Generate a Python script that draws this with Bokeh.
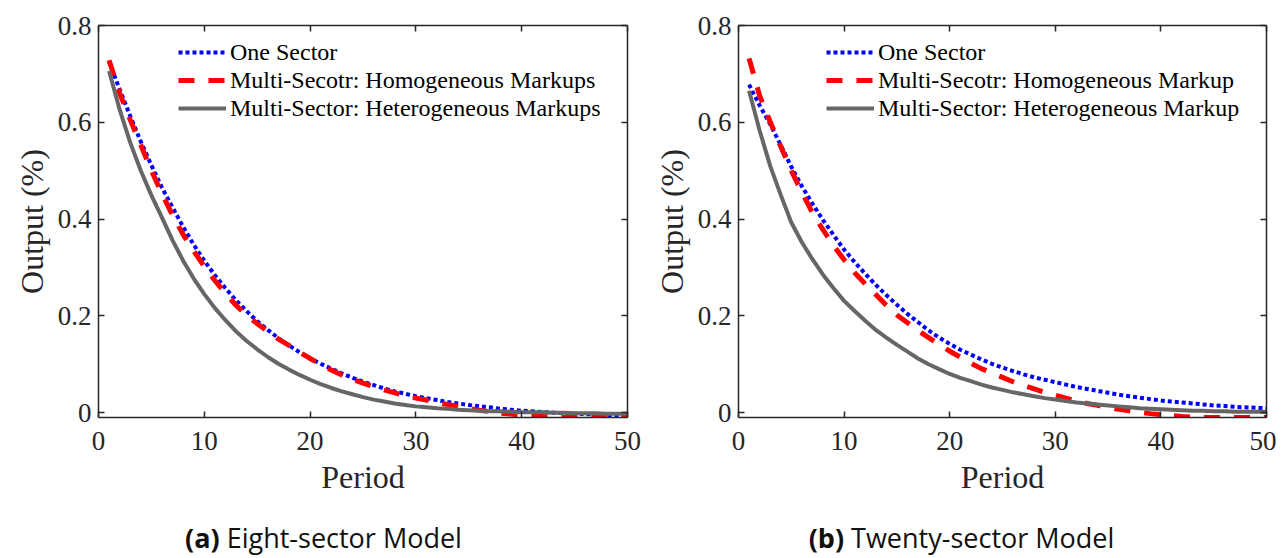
from bokeh.plotting import figure
from bokeh.models import (Range1d, FixedTicker, LinearAxis, CustomJSTickFormatter,
                          Legend, LegendItem, Div)
from bokeh.layouts import row, column
from bokeh.embed import file_html
from bokeh.resources import INLINE

periods = list(range(1, 51))

# (a) Eight-sector model
eight_one_sector = [
    0.725, 0.668, 0.613, 0.560, 0.511, 0.465, 0.424, 0.384, 0.347, 0.314,
    0.284, 0.257, 0.232, 0.210, 0.189, 0.171, 0.154, 0.139, 0.125, 0.112,
    0.101, 0.091, 0.081, 0.072, 0.064, 0.057, 0.050, 0.044, 0.039, 0.034,
    0.030, 0.026, 0.022, 0.019, 0.016, 0.013, 0.011, 0.008, 0.006, 0.004,
    0.003, 0.001, 0.000, -0.001, -0.002, -0.003, -0.004, -0.005, -0.005, -0.006]
eight_homogeneous = [
    0.728, 0.660, 0.605, 0.553, 0.500, 0.452, 0.408, 0.368, 0.334, 0.302,
    0.273, 0.246, 0.222, 0.201, 0.184, 0.168, 0.152, 0.139, 0.125, 0.112,
    0.100, 0.088, 0.078, 0.069, 0.061, 0.054, 0.047, 0.041, 0.035, 0.030,
    0.026, 0.021, 0.017, 0.013, 0.009, 0.005, 0.002, -0.001, -0.003, -0.005,
    -0.007, -0.008, -0.009, -0.010, -0.010, -0.010, -0.010, -0.010, -0.010, -0.010]
eight_heterogeneous = [
    0.706, 0.626, 0.558, 0.500, 0.449, 0.403, 0.356, 0.314, 0.277, 0.245,
    0.216, 0.191, 0.168, 0.148, 0.131, 0.115, 0.101, 0.089, 0.078, 0.068,
    0.059, 0.051, 0.044, 0.038, 0.032, 0.027, 0.023, 0.019, 0.016, 0.013,
    0.011, 0.009, 0.008, 0.006, 0.005, 0.004, 0.003, 0.003, 0.002, 0.001,
    0.001, 0.001, 0.000, 0.000, -0.001, -0.001, -0.001, -0.002, -0.002, -0.002]

# (b) Twenty-sector model
twenty_one_sector = [
    0.678, 0.635, 0.596, 0.553, 0.508, 0.468, 0.432, 0.398, 0.367, 0.337,
    0.311, 0.287, 0.264, 0.243, 0.223, 0.204, 0.187, 0.170, 0.155, 0.142,
    0.130, 0.120, 0.110, 0.101, 0.093, 0.086, 0.079, 0.073, 0.068, 0.063,
    0.058, 0.053, 0.049, 0.045, 0.041, 0.037, 0.034, 0.031, 0.028, 0.025,
    0.023, 0.021, 0.019, 0.017, 0.015, 0.014, 0.012, 0.011, 0.010, 0.009]
twenty_homogeneous = [
    0.732, 0.655, 0.601, 0.550, 0.500, 0.455, 0.413, 0.378, 0.345, 0.316,
    0.289, 0.266, 0.244, 0.222, 0.202, 0.186, 0.170, 0.155, 0.141, 0.127,
    0.115, 0.102, 0.091, 0.082, 0.073, 0.064, 0.056, 0.049, 0.042, 0.036,
    0.030, 0.024, 0.019, 0.015, 0.011, 0.007, 0.004, 0.001, -0.002, -0.004,
    -0.006, -0.008, -0.009, -0.010, -0.010, -0.010, -0.010, -0.010, -0.010, -0.010]
twenty_heterogeneous = [
    0.665, 0.583, 0.510, 0.450, 0.393, 0.352, 0.317, 0.285, 0.257, 0.231,
    0.210, 0.190, 0.171, 0.155, 0.140, 0.126, 0.112, 0.100, 0.090, 0.080,
    0.072, 0.065, 0.058, 0.052, 0.047, 0.042, 0.038, 0.034, 0.030, 0.027,
    0.024, 0.021, 0.019, 0.017, 0.015, 0.013, 0.011, 0.009, 0.008, 0.007,
    0.006, 0.005, 0.004, 0.004, 0.003, 0.003, 0.002, 0.002, 0.002, 0.002]

x_ticks = [0, 10, 20, 30, 40, 50]
y_ticks = [0, 0.2, 0.4, 0.6, 0.8]

labels_a = ["One Sector", "Multi-Secotr: Homogeneous Markups",
            "Multi-Sector: Heterogeneous Markups"]
labels_b = ["One Sector", "Multi-Secotr: Homogeneous Markup",
            "Multi-Sector: Heterogeneous Markup"]

AX = "#262626"
SERIF = "Liberation Serif"
FRAME_H = 392


def style_axis(ax, show_labels):
    ax.axis_line_color = AX
    ax.axis_line_width = 1.5
    ax.major_tick_line_color = AX
    ax.major_tick_line_width = 1.5
    ax.major_tick_in = 6
    ax.major_tick_out = 0
    ax.minor_tick_line_color = None
    if show_labels:
        ax.major_label_text_font = SERIF
        ax.major_label_text_font_size = "27px"
        ax.major_label_text_color = AX
    else:
        ax.formatter = CustomJSTickFormatter(code="return ''")
        ax.major_label_text_font_size = "0px"
        ax.major_label_standoff = 0


def make_fig(width, border_left, border_right, one, homo, hetero, labels, legend_x):
    p = figure(width=width, height=25 + FRAME_H + 88, output_backend="svg",
               toolbar_location=None,
               x_range=Range1d(0, 50), y_range=Range1d(-0.01, 0.8),
               min_border_left=border_left, min_border_right=border_right,
               min_border_top=25, min_border_bottom=88)
    p.xgrid.visible = False
    p.ygrid.visible = False
    p.outline_line_color = None
    p.background_fill_color = "white"

    p.xaxis.ticker = FixedTicker(ticks=x_ticks)
    p.yaxis.ticker = FixedTicker(ticks=y_ticks)
    p.yaxis.formatter = CustomJSTickFormatter(
        code="return Number(tick.toFixed(2)).toString()")
    style_axis(p.xaxis[0], True)
    style_axis(p.yaxis[0], True)
    p.xaxis.major_label_standoff = 14
    p.yaxis.major_label_standoff = 7

    p.xaxis.axis_label = "Period"
    p.yaxis.axis_label = "Output (%)"
    for ax in (p.xaxis[0], p.yaxis[0]):
        ax.axis_label_text_font = SERIF
        ax.axis_label_text_font_size = "32px"
        ax.axis_label_text_font_style = "normal"
        ax.axis_label_text_color = AX
    p.xaxis.axis_label_standoff = 6
    p.yaxis.axis_label_standoff = 5

    top = LinearAxis(ticker=FixedTicker(ticks=x_ticks))
    right = LinearAxis(ticker=FixedTicker(ticks=y_ticks))
    style_axis(top, False)
    style_axis(right, False)
    p.add_layout(top, "above")
    p.add_layout(right, "right")

    r1 = p.line(periods, one, line_color="#0000FF", line_width=4, line_dash="4 3")
    r2 = p.line(periods, homo, line_color="#FF0000", line_width=5, line_dash="16 14")
    r3 = p.line(periods, hetero, line_color="#666666", line_width=4)

    legend = Legend(items=[LegendItem(label=labels[0], renderers=[r1]),
                           LegendItem(label=labels[1], renderers=[r2]),
                           LegendItem(label=labels[2], renderers=[r3])],
                    location=(legend_x, FRAME_H - 13 - 84))
    legend.background_fill_alpha = 0
    legend.border_line_alpha = 0
    legend.padding = 0
    legend.margin = 0
    legend.spacing = 0
    legend.glyph_width = 48
    legend.glyph_height = 28
    legend.label_height = 28
    legend.label_standoff = 4
    legend.label_text_font = SERIF
    legend.label_text_font_size = "24px"
    legend.label_text_color = "#000000"
    p.add_layout(legend)
    return p


def caption(width, tag, text):
    html = ('<div style="width:%dpx;text-align:center;padding-top:19px;'
            'font-family:\'Open Sans\';font-size:27px;line-height:1;color:#111;">'
            '<b>%s</b> %s</div>' % (width, tag, text))
    return Div(text=html, width=width, height=53, margin=0)


fig_a = make_fig(647, 98, 20, eight_one_sector, eight_homogeneous, eight_heterogeneous,
                 labels_a, 80)
fig_b = make_fig(629, 91, 10, twenty_one_sector, twenty_homogeneous, twenty_heterogeneous,
                 labels_b, 88)

layout = row(column(fig_a, caption(647, "(a)", "Eight-sector Model")),
             column(fig_b, caption(629, "(b)", "Twenty-sector Model")))

open("out.html", "w").write(file_html(layout, INLINE))
